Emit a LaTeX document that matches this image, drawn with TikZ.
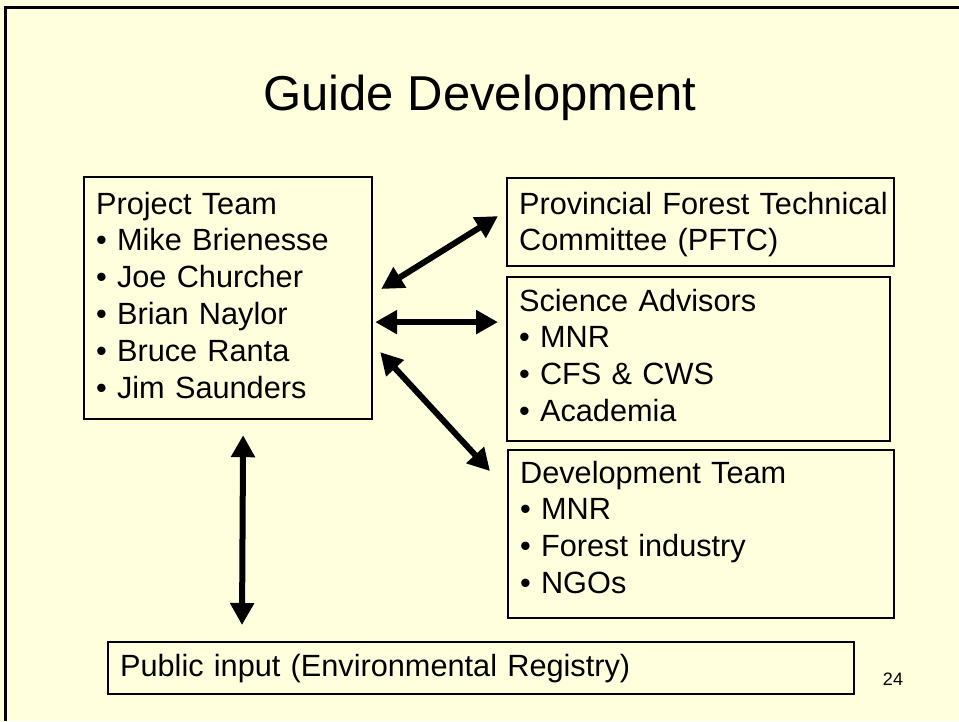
\documentclass[tikz,border=0pt]{standalone}
\usepackage{fontspec}
\setmainfont{Liberation Sans}
\usetikzlibrary{arrows.meta,calc}
\definecolor{bg}{HTML}{FFFFDE}
\begin{document}
\begin{tikzpicture}[x=1pt,y=-1pt,
  box/.style={draw=black,line width=2.2pt,anchor=north west,align=left,
    inner xsep=12pt,inner ysep=0pt,font=\fontsize{30.7}{36.8}\selectfont},
  dbl/.style={line width=6pt,{Triangle[length=22pt,width=23pt]}-{Triangle[length=22pt,width=23pt]}}]
\fill[bg] (0,0) rectangle (959,721);
\useasboundingbox (0,0) rectangle (959,721);
\draw[line width=3pt] (5,721) -- (5,7) -- (959,7);
\node[font=\fontsize{49}{58}\selectfont] (title) at (480,98) {Guide Development};
\node[box,minimum width=288pt,minimum height=242pt,text width=264pt,text height=37pt,text depth=205pt] (pt) at (83,176)
  {Project Team\\• Mike Brienesse\\• Joe Churcher\\• Brian Naylor\\• Bruce Ranta\\• Jim Saunders};
\node[box,minimum width=387pt,minimum height=88pt,text width=363pt,text height=36pt,text depth=52pt] (pftc) at (506,177)
  {\mbox{Provincial Forest Technical}\\\mbox{Committee (PFTC)}};
\node[box,minimum width=383pt,minimum height=164pt,text width=359pt,text height=34pt,text depth=130pt] (sci) at (506,276)
  {Science Advisors\\• MNR\\• CFS \& CWS\\• Academia};
\node[box,minimum width=386pt,minimum height=168pt,text width=362pt,text height=33pt,text depth=135pt] (dev) at (507,449)
  {Development Team\\• MNR\\• Forest industry\\• NGOs};
\node[box,minimum width=746pt,minimum height=52pt,text width=722pt,text height=34pt,text depth=18pt] (pub) at (107,641)
  {Public input (Environmental Registry)};
\node[font=\fontsize{18}{20}\selectfont] (num) at (893,679) {24};
\draw[dbl] ([shift={(8,113)}]pt.north east) -- ([shift={(-8,-6)}]pftc.west);
\draw[dbl] ([shift={(2,24)}]pt.east) -- ([shift={(-8,-37)}]sci.west);
\draw[dbl] ([shift={(7,54)}]pt.east) -- ([shift={(-17,-63)}]dev.west);
\draw[dbl] ([shift={(15,15)}]pt.south) -- ([shift={(135,-16)}]pub.north west);
\end{tikzpicture}
\end{document}
